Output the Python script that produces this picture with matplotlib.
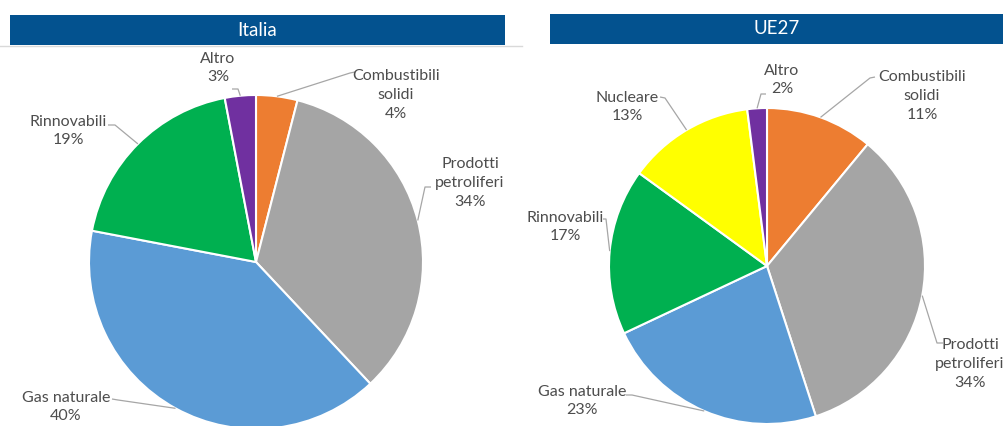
import numpy as np
import matplotlib
matplotlib.use('Agg')
import matplotlib.pyplot as plt
from matplotlib.patches import Rectangle

plt.rcParams['font.family'] = ['Lato', 'DejaVu Sans']

# Energy mix shares (%)
names_it = ['Combustibili\nsolidi', 'Prodotti\npetroliferi', 'Gas naturale', 'Rinnovabili', 'Altro']
share_it = [4, 34, 40, 19, 3]
colors_it = ['#ED7D31', '#A5A5A5', '#5B9BD5', '#00B050', '#7030A0']

names_ue = ['Combustibili\nsolidi', 'Prodotti\npetroliferi', 'Gas naturale', 'Rinnovabili', 'Nucleare', 'Altro']
share_ue = [11, 34, 23, 17, 13, 2]
colors_ue = ['#ED7D31', '#A5A5A5', '#5B9BD5', '#00B050', '#FFFF00', '#7030A0']

W, H = 1008, 426

# label layout in pixels from top-left: text centre, elbow of leader, end of leader
text_it = [(396, 95), (470, 183), (66, 407), (68, 131), (218, 68)]
elbow_it = [(350, 73), (425, 187), (118, 400), (115, 125), (238, 89)]
end_it = [(355, 72), (431, 187), (112, 399), (108, 125), (232, 89)]

text_ue = [(922, 96), (970, 364), (582, 401), (565, 227), (627, 107), (782, 80)]
elbow_ue = [(870, 78), (937, 343), (632, 395), (606, 219), (665, 98), (761, 94)]
end_ue = [(875, 77), (943, 343), (626, 395), (603, 219), (660, 97), (766, 94)]

BAR = '#03528F'
TXT = '#4D4D4D'
LEAD = '#A6A6A6'

fig = plt.figure(figsize=(W / 100, H / 100), dpi=100)
ax = fig.add_axes([0, 0, 1, 1])


def draw_pie(shares, names, colors, centre, radius, texts, elbows, ends):
    cx, cy = centre[0], H - centre[1]
    wedges, _ = ax.pie(shares, colors=colors, startangle=90, counterclock=False,
                       center=(cx, cy), radius=radius, frame=True,
                       wedgeprops=dict(edgecolor='white', linewidth=1.5))
    for w, name, val, t, e, n in zip(wedges, names, shares, texts, elbows, ends):
        mid = np.deg2rad((w.theta1 + w.theta2) / 2)
        sx, sy = cx + radius * np.cos(mid), cy + radius * np.sin(mid)
        ax.plot([sx, e[0], n[0]], [sy, H - e[1], H - n[1]], color=LEAD, lw=0.9,
                solid_capstyle='butt', zorder=3)
        ax.text(t[0], H - t[1], f'{name}\n{val}%', ha='center', va='center',
                fontsize=11.5, color=TXT, linespacing=1.45, zorder=4)


def header(x0, x1, y0, y1, title):
    ax.add_patch(Rectangle((x0, H - y1), x1 - x0, y1 - y0, facecolor=BAR,
                           edgecolor='none', zorder=2))
    ax.text((x0 + x1) / 2, H - (y0 + y1) / 2, title, ha='center', va='center',
            color='white', fontsize=13.5, zorder=3)


# thin rule under the left header
ax.plot([0, 522], [H - 46, H - 46], color='#D9D9D9', lw=1, zorder=1)
header(10, 505, 15, 45, 'Italia')
header(550, 1003, 14, 44, 'UE27')

draw_pie(share_it, names_it, colors_it, (256, 262), 167, text_it, elbow_it, end_it)
draw_pie(share_ue, names_ue, colors_ue, (767, 266), 158, text_ue, elbow_ue, end_ue)

ax.set_xlim(0, W)
ax.set_ylim(0, H)
ax.set_aspect('auto')
ax.set_axis_off()

fig.savefig('out.png', dpi=100, facecolor='white')
